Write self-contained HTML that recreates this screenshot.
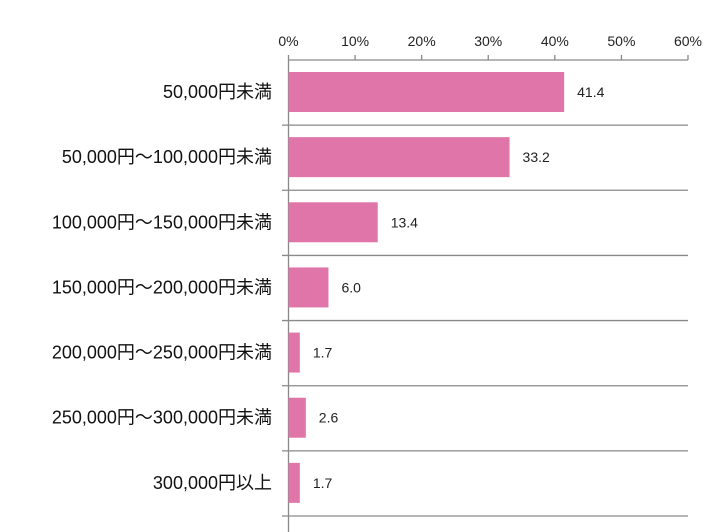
<!DOCTYPE html>
<html><head><meta charset="utf-8"><style>
body{margin:0;background:#fff;}
svg{display:block;font-family:"Liberation Sans","Noto Sans CJK JP",sans-serif;}
</style></head><body>
<svg id="chart" width="717" height="532"></svg>
<script>
const categories=["50,000円未満","50,000円～100,000円未満","100,000円～150,000円未満","150,000円～200,000円未満","200,000円～250,000円未満","250,000円～300,000円未満","300,000円以上"];
const values=[41.4,33.2,13.4,6.0,1.7,2.6,1.7];
const valueLabels=["41.4","33.2","13.4","6.0","1.7","2.6","1.7"];
const ticks=[0,10,20,30,40,50,60];
const tickLabels=["0%","10%","20%","30%","40%","50%","60%"];
const svg=document.getElementById('chart');
const NS='http://www.w3.org/2000/svg';
const x0=288.5,x1=688,yTop=60,yBottom=516,band=(yBottom-yTop)/categories.length;
const xs=v=>x0+(v/60)*(x1-x0);
const ys=i=>yTop+i*band;
function mk(t,a,p){const e=document.createElementNS(NS,t);for(const k in a)e.setAttribute(k,a[k]);(p||svg).appendChild(e);return e;}
const g=mk('g',{});


mk('line',{x1:x0,y1:yTop,x2:x1,y2:yTop,stroke:'#898989','stroke-width':1.3},g);
ticks.forEach((t,i)=>{
  const l=mk('line',{x1:xs(t),y1:yTop-5,x2:xs(t),y2:yTop,stroke:'#898989','stroke-width':1.3},g);
  
  
  const tx=mk('text',{x:xs(t),y:46,'text-anchor':'middle','font-size':14,fill:'#222'},g);
  tx.textContent=tickLabels[i];
  
  
});
const ax=mk('line',{x1:x0,y1:yTop,x2:x0,y2:532,stroke:'#898989','stroke-width':1.3});


categories.forEach((c,i)=>{
  const gl=mk('line',{x1:282,y1:ys(i+1),x2:x1,y2:ys(i+1),stroke:'#898989','stroke-width':1.3});
  
  
  const r=mk('rect',{x:x0,y:ys(i)+12,width:xs(values[i])-x0,height:40,fill:'#e075a9'});
  
  
  const v=mk('text',{x:xs(values[i])+13,y:ys(i)+37,'font-size':14,fill:'#222'});
  v.textContent=valueLabels[i];
  
  
  const cl=mk('text',{x:272,y:ys(i)+38,'text-anchor':'end','font-size':18,fill:'#111'});
  cl.textContent=c;
  
  
});
</script>
</body></html>
